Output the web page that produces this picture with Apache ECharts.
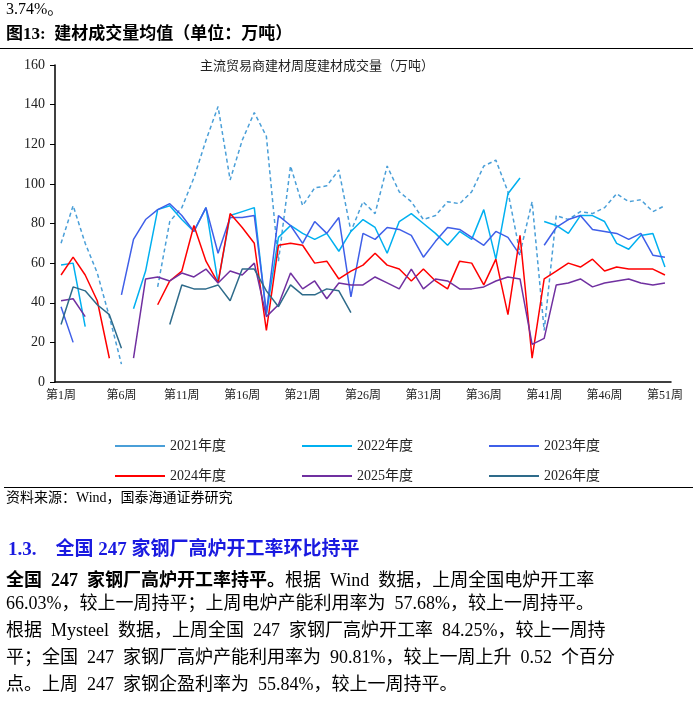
<!DOCTYPE html>
<html><head><meta charset="utf-8">
<script src="https://cdn.jsdelivr.net/npm/echarts@6/dist/echarts.min.js"></script>
<style>html,body{margin:0;padding:0;background:#fff}#c{width:693px;height:707px}</style>
</head><body><div id="c"></div>
<script>
var weeks = [];
for (var i = 1; i <= 51; i++) weeks.push('第' + i + '周');
var n = null;
var y2021 = [70,89,70,55,33,9,n,n,48,81,88,103,122,139,102,122,136,124,61,109,89,98,99,107,76,91,85,109,96,91,82,84,91,90,96,109,112,96,65,91,26,84,82,86,85,88,95,91,92,86,89];
var y2022 = [59,60,28,n,n,n,37,56,87,89,82,76,88,50,84,86,88,34,73,79,75,72,75,66,76,82,78,65,81,85,80,75,69,76,72,87,62,95,103,n,81,79,75,84,84,81,70,67,74,75,58];
var y2023 = [38,20,n,n,n,44,72,82,87,90,84,76,88,65,83,83,84,35,84,79,70,81,75,83,43,75,72,78,77,74,63,71,78,77,73,69,76,73,64,n,69,78,82,84,77,76,75,72,75,64,63];
var y2024 = [54,63,54,41,12,n,n,n,39,51,56,79,61,50,85,78,70,26,69,70,69,60,61,52,56,59,65,59,57,51,57,51,47,61,60,49,62,34,74,12,52,56,60,58,62,56,58,57,57,57,54];
var y2025 = [41,42,33,n,n,n,12,52,53,51,55,53,57,50,56,54,60,33,39,55,47,51,42,50,49,49,53,50,47,57,47,52,51,47,47,48,51,53,52,19,22,49,50,52,48,50,51,52,50,49,50];
var y2026 = [29,48,46,39,34,17,n,n,n,29,49,47,47,49,41,57,57,46,38,49,44,44,47,46,35];
var names = ['2021年度','2022年度','2023年度','2024年度','2025年度','2026年度'];
var colors = ['#4A9FD8','#00B0F0','#3F5FE8','#FF0000','#7030A0','#2E6B8A'];
var datas = [y2021,y2022,y2023,y2024,y2025,y2026];
var serif = '"Liberation Serif","Noto Sans CJK SC",serif';
var cjk = '"Liberation Serif","Noto Sans CJK SC",sans-serif';
var series = names.map(function(nm, i){
  return {name: nm, type:'line', data: datas[i], symbol:'none', connectNulls:false,
    lineStyle:{color:colors[i], width:1.5, type: i===0?[4,3]:'solid'}, itemStyle:{color:colors[i]}};
});
var legText = {fontFamily: cjk, fontSize: 14, color:'#222'};
var chart = echarts.init(document.getElementById('c'));
chart.setOption({
  animation:false,
  color: colors,
  grid:{left:55, right:22, top:65, bottom:325},
  legend:[
    {data:names.slice(0,3), left:110, top:434, itemWidth:50, itemHeight:2, itemGap:76, textStyle:legText, icon:'rect'},
    {data:names.slice(3), left:110, top:464, itemWidth:50, itemHeight:2, itemGap:76, textStyle:legText, icon:'rect'}
  ],
  xAxis:{type:'category', data:weeks, boundaryGap:true,
    axisLine:{lineStyle:{color:'#000', width:1.5}},
    axisTick:{interval:4, length:5, lineStyle:{color:'#000'}},
    axisLabel:{interval:4, fontFamily:cjk, fontSize:12, color:'#222', margin:8}},
  yAxis:{type:'value', min:0, max:160, interval:20,
    splitLine:{show:false},
    axisLine:{show:true, lineStyle:{color:'#000', width:1.5}},
    axisTick:{show:true, inside:false, length:5, lineStyle:{color:'#000'}},
    axisLabel:{fontFamily:serif, fontSize:14, color:'#222', margin:10}},
  series: series,
  graphic:[
    {type:'text', left:6, top:2, style:{text:'3.74%。', font:'16px '+serif, fill:'#000'}},
    {type:'text', left:6, top:26, style:{text:'图13:  建材成交量均值（单位：万吨）', font:'bold 17px '+cjk, fill:'#000'}},
    {type:'rect', shape:{x:0, y:48, width:693, height:1}, style:{fill:'#000'}},
    {type:'text', left:200, top:60, style:{text:'主流贸易商建材周度建材成交量（万吨）', font:'13px '+cjk, fill:'#222'}},
    {type:'rect', shape:{x:4, y:487, width:689, height:1}, style:{fill:'#000'}},
    {type:'text', left:6, top:491, style:{text:'资料来源：Wind，国泰海通证券研究', font:'14px '+cjk, fill:'#000'}},
    {type:'text', left:8, top:541, style:{text:'1.3.    全国 247 家钢厂高炉开工率环比持平', font:'bold 19px '+cjk, fill:'#1A1AE0'}},
    {type:'text', left:6, top:568, style:{
      rich:{b:{font:'bold 18px '+cjk, fill:'#000'}, r:{font:'18px '+cjk, fill:'#000'}},
      text:'{b|全国  247  家钢厂高炉开工率持平。}{r|根据  Wind  数据，上周全国电炉开工率}', lineHeight:27}},
    {type:'text', left:6, top:595, style:{text:'66.03%，较上一周持平；上周电炉产能利用率为  57.68%，较上一周持平。', font:'18px '+cjk, fill:'#000'}},
    {type:'text', left:6, top:622, style:{text:'根据  Mysteel  数据，上周全国  247  家钢厂高炉开工率  84.25%，较上一周持', font:'18px '+cjk, fill:'#000'}},
    {type:'text', left:6, top:649, style:{text:'平；全国  247  家钢厂高炉产能利用率为  90.81%，较上一周上升  0.52  个百分', font:'18px '+cjk, fill:'#000'}},
    {type:'text', left:6, top:676, style:{text:'点。上周  247  家钢企盈利率为  55.84%，较上一周持平。', font:'18px '+cjk, fill:'#000'}}
  ]
});
</script></body></html>
